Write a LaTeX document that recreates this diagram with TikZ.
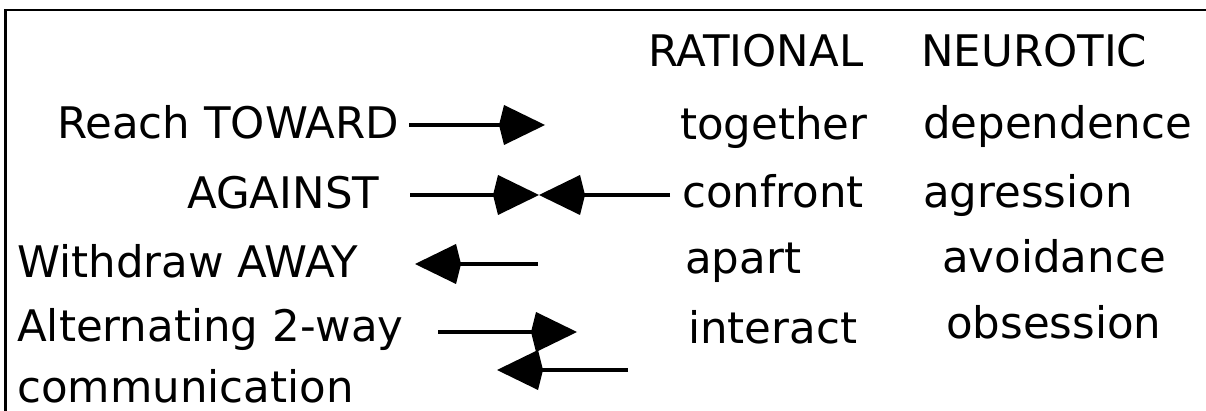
\documentclass[tikz,border=0pt]{standalone}
\usepackage{fontspec}
\setmainfont{DejaVu Sans}
\usetikzlibrary{arrows.meta}

\begin{document}
\begin{tikzpicture}[
  x=1pt, y=-1pt,
  every node/.style={font=\fontsize{43.5}{50}\selectfont, inner sep=0pt, anchor=base west},
  conn/.style={line width=3.2pt, -{Kite[length=46pt, width=40pt, inset=5pt]}}
]
  \useasboundingbox (0,0) rectangle (1206,411);

  % --- frame (only top and left edges show) ---
  \draw[line width=2.5pt] (5.5,411) -- (5.5,10) -- (1206,10);

  % --- column heads ---
  \node (rat)  at (648,67) {RATIONAL};
  \node (neur) at (921,67) {NEUROTIC};

  % --- left column: the four moves ---
  \node (reach)    at (57,139)  {Reach TOWARD};
  \node (against)  at (187,209) {AGAINST};
  \node (withdraw) at (17,278)  {Withdraw AWAY};
  \node (altern)   at (17,341)  {Alternating 2-way};
  \node (comm)     at (17,402)  {communication};

  % --- rational column ---
  \node (together) at (680,140) {together};
  \node (confront) at (682,208) {confront};
  \node (apart)    at (685,274) {apart};
  \node (interact) at (688,343) {interact};

  % --- neurotic column ---
  \node (depend)   at (923,139) {dependence};
  \node (agress)   at (923,208) {agression};
  \node (avoid)    at (942,273) {avoidance};
  \node (obsess)   at (946,338) {obsession};

  % --- arrow ends ---
  \coordinate (towS) at (409,125);
  \coordinate (towE) at (545,125);
  \coordinate (agL)  at (410,195);
  \coordinate (agM)  at (539,195);
  \coordinate (agR)  at (670,195);
  \coordinate (awS)  at (538,264);
  \coordinate (awE)  at (415,264);
  \coordinate (alt1S) at (438,332);
  \coordinate (alt1E) at (577,332);
  \coordinate (alt2S) at (628,370);
  \coordinate (alt2E) at (497,370);

  % --- arrows ---
  \draw[conn] (towS) -- (towE);
  \draw[conn] (agL) -- (agM);
  \draw[conn] (agR) -- (agM);
  \draw[conn] (awS) -- (awE);
  \draw[conn] (alt1S) -- (alt1E);
  \draw[conn] (alt2S) -- (alt2E);

\end{tikzpicture}
\end{document}
